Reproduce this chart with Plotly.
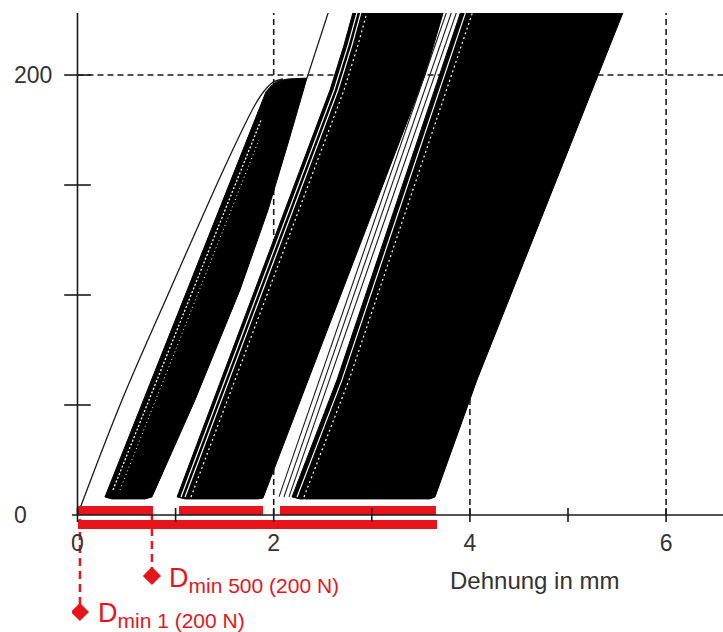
import plotly.graph_objects as go

# ---------------- data (strain in mm, force in N) ----------------
# black hysteresis bands (outline polygons)
band1_x = [0.280, 1.881, 1.921, 1.973, 2.044, 2.146, 2.339, 2.156, 1.942, 1.656, 1.198, 0.759, 0.688, 0.352]
band1_y = [8.2, 188.6, 192.3, 195.0, 197.3, 198.2, 198.6, 170.5, 138.6, 102.3, 52.3, 8.2, 7.3, 7.3]
band2_x = [1.015, 1.809, 2.574, 2.717, 2.808, 2.829, 3.756, 3.726, 3.542, 1.891, 1.840, 1.096]
band2_y = [8.2, 102.3, 193.2, 213.6, 228.2, 231.8, 231.8, 228.2, 200.0, 7.7, 7.3, 7.3]
band3_x = [2.187, 2.645, 3.930, 5.591, 4.072, 3.644, 3.593, 2.268]
band3_y = [8.2, 61.4, 231.8, 231.8, 61.4, 8.2, 7.3, 7.3]

# first loading curve and the re-loading line above band 1
load_x = [0.0, 0.454, 0.943, 1.534, 1.809, 1.911, 1.994, 2.095]
load_y = [0.0, 52.3, 102.3, 161.4, 186.4, 193.2, 196.8, 198.2]
reload_x = [2.339, 2.581]
reload_y = [198.6, 231.8]

# thin curves in the gap between band 2 and band 3
gap_lines_x = [[2.054, 3.787], [2.105, 3.838], [2.156, 3.889]]
gap_lines_y = [8.2, 231.8]

# white stripes inside the bands
stripe1a_x = [0.362, 1.871]
stripe1a_y = [11.4, 179.5]
stripe1b_x = [0.433, 1.850]
stripe1b_y = [11.4, 170.5]
stripe2_x = [[1.055, 1.850, 2.615, 2.758, 2.849, 2.870],
             [1.096, 1.891, 2.656, 2.798, 2.890, 2.910],
             [1.157, 1.952, 2.717, 2.859, 2.951, 2.971]]
stripe2_y = [8.2, 102.3, 193.2, 213.6, 228.2, 231.8]
stripe3_x = [[2.238, 2.696, 3.981], [2.309, 2.768, 4.052]]
stripe3_y = [8.2, 61.4, 231.8]

# red range bars and D_min markers
bar_upper_start = [0.005, 1.035, 2.064]
bar_upper_end = [0.770, 1.891, 3.654]
bar_lower_start = [0.005]
bar_lower_end = [3.665]
bar_upper_level = 2.05
bar_lower_level = -4.3
dmin_x = [0.759, 0.025]
dmin_y = [-27.7, -44.1]
dmin_top = [0.0, 4.1]
dmin_labels = ["D<sub><span style=\"font-size:21px\">min 500 (200 N)</span></sub>",
               "D<sub><span style=\"font-size:21px\">min 1 (200 N)</span></sub>"]
dmin_label_x = [0.914, 0.189]
dmin_label_y = [-29.5, -45.5]

# axes
x_ticks = [0, 1, 2, 3, 4, 5, 6]
x_label_vals = [0, 2, 4, 6]
y_ticks = [50, 100, 150, 200]
y_label_vals = [0, 200]
grid_x = [2, 4, 6]
grid_y = [200]
x_range = [-0.056, 6.58]
y_range = [-53.2, 228.2]
x_title = "Dehnung in mm"

RED = "#e8141c"
INK = "#1a1a1a"
TXT = "#333333"
FONT = "Arial, Liberation Sans, sans-serif"

fig = go.Figure()

# gridlines (behind the bands)
for gx in grid_x:
    fig.add_trace(go.Scatter(x=[gx, gx], y=[0, y_range[1]], mode="lines",
                             line=dict(color=INK, width=1.6, dash="6px,4px"), hoverinfo="skip"))
for gy in grid_y:
    fig.add_trace(go.Scatter(x=[0, x_range[1]], y=[gy, gy], mode="lines",
                             line=dict(color=INK, width=1.6, dash="6px,4px"), hoverinfo="skip"))

# black bands
for bx, by in [(band1_x, band1_y), (band2_x, band2_y), (band3_x, band3_y)]:
    fig.add_trace(go.Scatter(x=bx + [bx[0]], y=by + [by[0]], mode="lines", fill="toself",
                             fillcolor="black", line=dict(color="black", width=1), hoverinfo="skip"))

# white stripes
fig.add_trace(go.Scatter(x=stripe1a_x, y=stripe1a_y, mode="lines",
                         line=dict(color="white", width=1.3, dash="2px,2px"), hoverinfo="skip"))
fig.add_trace(go.Scatter(x=stripe1b_x, y=stripe1b_y, mode="lines",
                         line=dict(color="white", width=1, dash="1px,3px"), hoverinfo="skip"))
for i, sx in enumerate(stripe2_x):
    fig.add_trace(go.Scatter(x=sx, y=stripe2_y, mode="lines",
                             line=dict(color="white", width=1.2, dash="solid" if i < 2 else "2px,3px"),
                             hoverinfo="skip"))
for i, sx in enumerate(stripe3_x):
    fig.add_trace(go.Scatter(x=sx, y=stripe3_y, mode="lines",
                             line=dict(color="white", width=1.2, dash="solid" if i < 1 else "2px,3px"),
                             hoverinfo="skip"))

# thin black curves
fig.add_trace(go.Scatter(x=load_x, y=load_y, mode="lines", line=dict(color=INK, width=1.3, shape="spline"),
                         hoverinfo="skip"))
fig.add_trace(go.Scatter(x=reload_x, y=reload_y, mode="lines", line=dict(color=INK, width=1.3), hoverinfo="skip"))
for gxs in gap_lines_x:
    fig.add_trace(go.Scatter(x=gxs, y=gap_lines_y, mode="lines", line=dict(color=INK, width=1.1), hoverinfo="skip"))

# red dashed drop lines and bars
for dx, dy, dt in zip(dmin_x, dmin_y, dmin_top):
    fig.add_trace(go.Scatter(x=[dx, dx], y=[dt, dy], mode="lines",
                             line=dict(color=RED, width=2.5, dash="8px,5px"), hoverinfo="skip"))
fig.add_trace(go.Bar(orientation="h", base=bar_upper_start,
                     x=[e - s for s, e in zip(bar_upper_start, bar_upper_end)],
                     y=[bar_upper_level] * len(bar_upper_start), width=4.1,
                     marker=dict(color=RED, line=dict(width=0)), hoverinfo="skip"))
fig.add_trace(go.Bar(orientation="h", base=bar_lower_start,
                     x=[e - s for s, e in zip(bar_lower_start, bar_lower_end)],
                     y=[bar_lower_level] * len(bar_lower_start), width=4.1,
                     marker=dict(color=RED, line=dict(width=0)), hoverinfo="skip"))
fig.add_trace(go.Scatter(x=dmin_x, y=dmin_y, mode="markers",
                         marker=dict(symbol="diamond", size=14, color=RED), hoverinfo="skip"))

# axis lines and crossing tick marks
fig.add_trace(go.Scatter(x=x_range, y=[0, 0], mode="lines", line=dict(color=INK, width=1.6), hoverinfo="skip"))
fig.add_trace(go.Scatter(x=[0, 0], y=[0, y_range[1]], mode="lines", line=dict(color=INK, width=1.6), hoverinfo="skip"))
fig.add_trace(go.Scatter(x=x_ticks, y=[0] * len(x_ticks), mode="markers", cliponaxis=False,
                         marker=dict(symbol="line-ns-open", size=10, color=INK, line=dict(color=INK, width=1.6)),
                         hoverinfo="skip"))
fig.add_trace(go.Scatter(x=[0] * len(y_ticks), y=y_ticks, mode="markers", cliponaxis=False,
                         marker=dict(symbol="line-ew-open", size=19, color=INK, line=dict(color=INK, width=1.6)),
                         hoverinfo="skip"))

annotations = []
for v in y_label_vals:
    annotations.append(dict(x=-0.092, xref="paper", y=v, yref="y", text=str(v), showarrow=False,
                            xanchor="left", yanchor="middle", font=dict(family=FONT, size=23, color=TXT)))
annotations.append(dict(x=3.777, y=-30, xref="x", yref="y", text=x_title, showarrow=False,
                        xanchor="left", yanchor="middle", font=dict(family=FONT, size=24, color=TXT)))
for lx, ly, lt in zip(dmin_label_x, dmin_label_y, dmin_labels):
    annotations.append(dict(x=lx, y=ly, xref="x", yref="y", text=lt, showarrow=False,
                            xanchor="left", yanchor="middle", font=dict(family=FONT, size=27, color=RED)))

xpos = (0 - y_range[0]) / (y_range[1] - y_range[0])

fig.update_layout(
    width=723, height=632,
    margin=dict(l=72, r=0, t=13, b=0),
    paper_bgcolor="white", plot_bgcolor="white",
    showlegend=False, barmode="overlay",
    annotations=annotations,
    xaxis=dict(range=x_range, showgrid=False, zeroline=False, showline=False,
               anchor="free", position=xpos, tickmode="array", tickvals=x_label_vals,
               ticktext=[str(v) for v in x_label_vals], ticks="", ticklabelstandoff=12,
               tickfont=dict(family=FONT, size=23, color=TXT)),
    yaxis=dict(range=y_range, showgrid=False, zeroline=False, showline=False,
               showticklabels=False, ticks=""),
)

fig.write_html("out.html")
